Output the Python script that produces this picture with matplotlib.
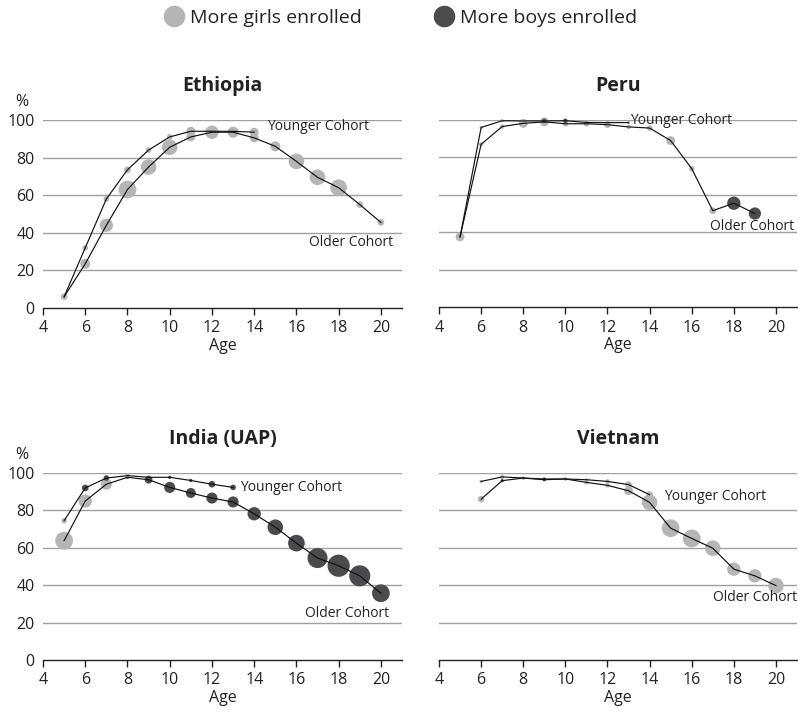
import numpy as np
import matplotlib.pyplot as plt
from matplotlib.lines import Line2D

plt.rcParams['font.family'] = ['Open Sans', 'DejaVu Sans']

LIGHT = '#b5b5b7'
DARK = '#4b4b4d'

# values; gap > 0 means more girls enrolled, < 0 more boys
eth_young_age = [5, 6, 7, 8, 9, 10, 11, 12, 13, 14]
eth_young_val = [6, 32, 58, 73.5, 84, 91, 94, 94, 94, 93.5]
eth_young_gap = [2, 2.5, 2.5, 3, 2.5, 2.5, 4, 4, 3, 4]
eth_old_age = list(range(5, 21))
eth_old_val = [6, 23.5, 44, 63, 75, 85.5, 91, 93.5, 93.5, 90.5, 86, 78, 69.5, 64, 55, 45.5]
eth_old_gap = [3, 4.5, 6, 8, 7, 7, 4, 6, 5, 4, 4.5, 7, 7, 7.5, 3, 3]

peru_young_age = list(range(5, 14))
peru_young_val = [37.5, 96, 99.6, 99.5, 99.5, 99.6, 98.7, 98.6, 98.6]
peru_young_gap = [1.5, 1.5, 1.5, 1.5, -2, -2, 1.5, 1.5, 1.5]
peru_old_age = list(range(5, 20))
peru_old_val = [37.5, 87, 96.5, 98.2, 99, 98, 98, 97.5, 96.3, 95.7, 89, 74, 51.5, 55.5, 50]
peru_old_gap = [4, 2, 2, 4, 4, 2.5, 2.5, 3, 2, 2.5, 4, 2.5, 3, -6, -5.5]

ind_young_age = list(range(5, 14))
ind_young_val = [74.5, 92, 97.3, 98.6, 97.7, 97.7, 96, 94, 92.3]
ind_young_gap = [2.5, -3, -2.5, 2, -1.5, -1.5, -1.5, -3, -2.5]
ind_old_age = list(range(5, 21))
ind_old_val = [63.8, 85, 94, 97.7, 96.4, 92.3, 89.3, 86.6, 84.5, 78.2, 71, 62.5, 54.5, 50.4, 45, 35.7]
ind_old_gap = [8, 6, 5, -1.5, -3.5, -5, -4.5, -5, -5, -6, -7, -7.5, -9, -10, -9.5, -8]

vn_young_age = list(range(6, 15))
vn_young_val = [95.5, 97.9, 97.3, 96.8, 96.8, 96.4, 95.5, 93.8, 88.4]
vn_young_gap = [1.5, 2, 1.5, -1.5, 1.5, 1.5, 2, 3, 3]
vn_old_age = list(range(6, 21))
vn_old_val = [86, 95.9, 97.3, 96.4, 96.8, 95, 93.4, 90.5, 84.3, 70.5, 65, 59.8, 48.6, 45, 39.8]
vn_old_gap = [3, -1.5, 1.5, -1.5, 1.5, 2, 2, 4, 7, 8, 8, 7, 6, 6, 7]

panels = [
    ('Ethiopia', eth_young_age, eth_young_val, eth_young_gap, eth_old_age, eth_old_val, eth_old_gap,
     (14.6, 96.8), (16.6, 35)),
    ('Peru', peru_young_age, peru_young_val, peru_young_gap, peru_old_age, peru_old_val, peru_old_gap,
     (13.05, 99.5), (16.85, 43.3)),
    ('India (UAP)', ind_young_age, ind_young_val, ind_young_gap, ind_old_age, ind_old_val, ind_old_gap,
     (13.35, 92), (16.4, 24.6)),
    ('Vietnam', vn_young_age, vn_young_val, vn_young_gap, vn_old_age, vn_old_val, vn_old_gap,
     (14.7, 87.2), (17.0, 33.2)),
]

W, H = 798, 713
fig = plt.figure(figsize=(W / 100, H / 100), dpi=100)
boxes = [(43, 120, 359, 188), (439, 120, 358, 187),
         (43, 473, 359, 187), (439, 473, 358, 187)]


def sizes(gap):
    g = np.abs(np.array(gap, dtype=float))
    return (2 * g * 0.8) ** 2


def colors(gap):
    return [LIGHT if g > 0 else DARK for g in gap]


for i, (name, ya, yv, yg, oa, ov, og, ylab, olab) in enumerate(panels):
    x0, y0, w, h = boxes[i]
    ax = fig.add_axes([x0 / W, 1 - (y0 + h) / H, w / W, h / H])
    ax.scatter(oa, ov, s=sizes(og), c=colors(og), zorder=2, linewidths=0, clip_on=False)
    ax.scatter(ya, yv, s=sizes(yg), c=colors(yg), zorder=2, linewidths=0, clip_on=False)
    ax.plot(oa, ov, color='#111111', lw=0.85, zorder=3, clip_on=False)
    ax.plot(ya, yv, color='#111111', lw=0.85, zorder=3, clip_on=False)
    ax.text(ylab[0], ylab[1], 'Younger Cohort', fontsize=10, va='center', color='#222222')
    ax.text(olab[0], olab[1], 'Older Cohort', fontsize=10, va='center', color='#222222')

    ax.set_xlim(4, 21)
    ax.set_ylim(0, 100)
    ax.set_xticks(range(4, 21, 2))
    ax.set_yticks(range(0, 101, 20))
    for v in range(20, 101, 20):
        ax.axhline(v, color='#a0a0a0', lw=1, zorder=1)
    for s in ['top', 'right', 'left']:
        ax.spines[s].set_visible(False)
    ax.spines['bottom'].set_color('#222222')
    ax.spines['bottom'].set_linewidth(1)
    ax.tick_params(axis='x', length=5, width=1, color='#222222', labelsize=11.5, pad=4,
                   labelcolor='#222222')
    ax.tick_params(axis='y', length=0, labelsize=11.5, pad=6, labelcolor='#222222')
    if i % 2 == 1:
        ax.set_yticklabels([])
    else:
        ax.text(-0.058, 1.095, '%', transform=ax.transAxes, ha='center', va='center',
                fontsize=11.5, color='#222222')
    ax.set_xlabel('Age', fontsize=11.5, labelpad=1, color='#222222')
    ax.set_title(name, fontsize=14, fontweight='bold', pad=21, color='#222222')

handles = [Line2D([], [], marker='o', ls='', color=LIGHT, markersize=14.5),
           Line2D([], [], marker='o', ls='', color=DARK, markersize=14.5)]
fig.legend(handles, ['More girls enrolled', 'More boys enrolled'], loc='center',
           bbox_to_anchor=(0.501, 0.975), ncol=2, frameon=False, fontsize=14,
           handletextpad=0.25, columnspacing=3.6, handlelength=1.2, labelcolor='#222222')

fig.savefig('out.png', dpi=100)
